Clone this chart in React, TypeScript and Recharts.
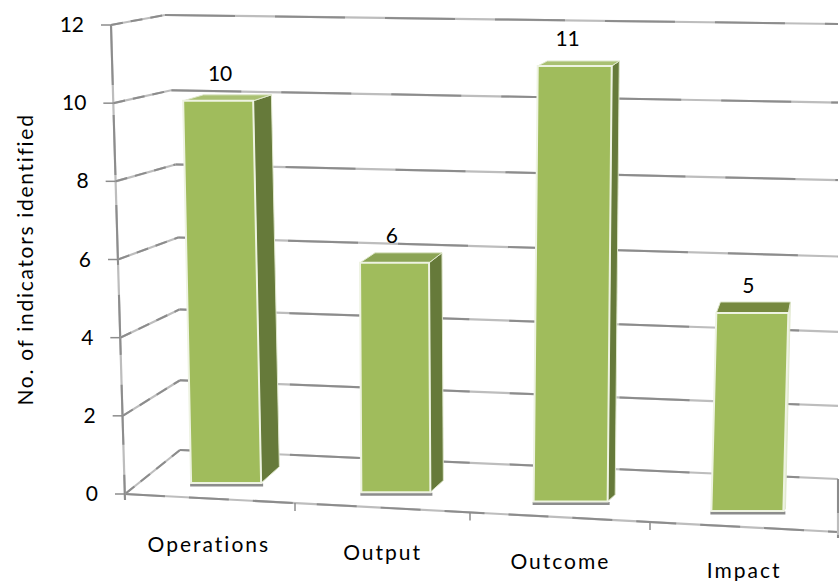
import React from 'react';
import { BarChart, Bar, XAxis, YAxis, CartesianGrid } from 'recharts';

const categories = ['Operations', 'Output', 'Outcome', 'Impact'];
const indicatorCounts = [10, 6, 11, 5];
const yTicks = [0, 2, 4, 6, 8, 10, 12];

const data = categories.map((name, i) => ({ name, count: indicatorCounts[i] }));

const FONT = 'Lato, "Open Sans", sans-serif';
const FLOOR_Y = 494;
const TOP_Y = 25;
const FRONT_X = 125;
const RIGHT_X = 838;
const GRAY = '#8c8c8c';
const LIGHT_GRAY = '#bdbdbd';

// small sideways nudges, the 3D picture does not centre things on their bars
const labelNudge = [-17, -17, -13, -3];
const barNudge = [0, -4, -3, 0];
const valueNudge = [-6, -4, -3, 1];
const widthNudge = [0, -1, 4, 2];

const fracOf = (y: number) => (FLOOR_Y - y) / (FLOOR_Y - TOP_Y);
const frontXAt = (t: number) => FRONT_X - 14 * t;
const floorYAt = (x: number) => FLOOR_Y + (x - FRONT_X) * 0.0533;

// stair-stepped look of the resampled lines: light line with a darker dashed one on top
const Rough = ({ x1, y1, x2, y2, dash = '34 22' }: any) => (
  <g>
    <line x1={x1} y1={y1} x2={x2} y2={y2} stroke={LIGHT_GRAY} strokeWidth={2.2} />
    <line x1={x1} y1={y1} x2={x2} y2={y2} stroke={GRAY} strokeWidth={2} strokeDasharray={dash} />
  </g>
);

const GridLine = (props: any) => {
  const t = fracOf(props.y1);
  const bow = 20 * t * (1 - t);
  const fx = frontXAt(t);
  const bx = 180 - 15 * t * t * t;
  const by = 450 - 435 * t + bow;
  const ry = 479 - 455 * t + bow;
  return (
    <g key={`grid-${props.index}`}>
      <Rough x1={fx} y1={props.y1} x2={bx} y2={by} dash="12 8" />
      <Rough x1={bx} y1={by} x2={RIGHT_X} y2={ry} dash="70 40" />
      {t < 0.01 && (
        <g>
          <Rough x1={fx} y1={FLOOR_Y} x2={RIGHT_X} y2={floorYAt(RIGHT_X)} dash="40 24" />
          <Rough x1={RIGHT_X} y1={ry} x2={RIGHT_X} y2={floorYAt(RIGHT_X) + 6} />
          <Rough x1={frontXAt(1)} y1={TOP_Y} x2={FRONT_X} y2={FLOOR_Y + 6} dash="60 30" />
        </g>
      )}
    </g>
  );
};

const ValueTick = ({ y, payload }: any) => {
  const fx = frontXAt(fracOf(y));
  return (
    <g>
      <line x1={fx - 10} y1={y} x2={fx} y2={y} stroke={GRAY} strokeWidth={1.5} />
      <text x={fx - 27} y={y + 7} textAnchor="end" fontFamily={FONT} fontSize={21} fill="#000">
        {payload.value}
      </text>
    </g>
  );
};

const CategoryTick = ({ x, payload, index }: any) => {
  const lx = x + labelNudge[index];
  const left = FRONT_X + 167.5 * index + 2.5 * index * index;
  return (
    <g>
      {index > 0 && (
        <line x1={left} y1={floorYAt(left)} x2={left} y2={floorYAt(left) + 8} stroke={GRAY} strokeWidth={1.5} />
      )}
      <text
        x={lx}
        y={552 + (lx - 209) * 0.0487}
        textAnchor="middle"
        fontFamily={FONT}
        fontSize={21}
        letterSpacing={2}
        fill="#000"
      >
        {payload.value}
      </text>
    </g>
  );
};

const Bar3D = ({ x, width, height, payload, index }: any) => {
  const c = x + width / 2 + barNudge[index];
  const w = width + widthNudge[index];
  const base = 483 + (c - 225) * 0.0535;
  const h = height * (c < 480 ? 0.978 : 1.013);
  const top = base - h;
  const lean = (c - 463) * 8.8e-5 * h;
  const l = c - w / 2;
  const r = c + w / 2;
  const dx = Math.max(2, (750 - c) * 0.031 + 2);
  const dy = 16 - payload.count;
  const topFill = payload.count <= 5 ? '#76893f' : payload.count <= 6 ? '#8ba455' : '#a9c072';
  const sideFill = dx > 3 ? '#667a3a' : '#e4ebd3';
  const face = `${l},${base} ${r},${base} ${r + lean},${top} ${l + lean},${top}`;
  const side = `${r},${base} ${r + dx},${base - dx * 0.9} ${r + lean + dx},${top - dy} ${r + lean},${top}`;
  const lid = `${l + lean},${top} ${r + lean},${top} ${r + lean + dx},${top - dy} ${l + lean + dx + 2},${top - dy}`;
  return (
    <g>
      <line x1={l - 1} y1={base + 2} x2={r + 2} y2={base + 2} stroke={GRAY} strokeWidth={3} />
      <polygon points={side} fill={sideFill} stroke="#dfe7cc" strokeWidth={1} />
      <polygon points={lid} fill={topFill} stroke="#dfe7cc" strokeWidth={1} />
      <polygon points={face} fill="#a0bc5c" stroke="#eef3e2" strokeWidth={2} />
      <text x={c + valueNudge[index]} y={top - 20} textAnchor="middle" fontFamily={FONT} fontSize={21} fill="#000">
        {payload.count}
      </text>
    </g>
  );
};

export default function App() {
  return (
    <div style={{ position: 'absolute', left: 0, top: 0, width: 840, height: 581 }}>
      <BarChart
        width={840}
        height={581}
        data={data}
        barCategoryGap="30%"
        margin={{ top: TOP_Y, right: 2, bottom: 0, left: 0 }}
      >
        <CartesianGrid horizontal={GridLine as any} vertical={false} />
        <XAxis
          dataKey="name"
          height={87}
          interval={0}
          axisLine={false}
          tickLine={false}
          padding={{ left: 14, right: 4 }}
          tick={CategoryTick as any}
        />
        <YAxis
          width={FRONT_X}
          domain={[0, 12]}
          ticks={yTicks}
          axisLine={false}
          tickLine={false}
          tick={ValueTick as any}
          label={{
            value: 'No. of indicators identified',
            angle: -90,
            position: 'insideLeft',
            offset: 0,
            dx: 26,
            style: { textAnchor: 'middle', fontFamily: FONT, fontSize: 21, letterSpacing: 1.7, fill: '#000' },
          }}
        />
        <Bar dataKey="count" shape={Bar3D as any} isAnimationActive={false} />
      </BarChart>
    </div>
  );
}
